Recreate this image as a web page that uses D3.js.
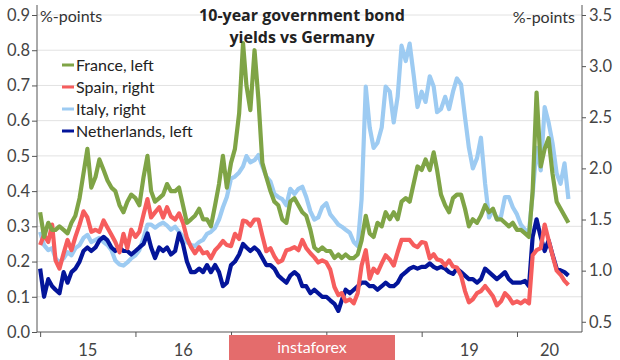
<!DOCTYPE html>
<html><head><meta charset="utf-8">
<script src="https://cdn.jsdelivr.net/npm/d3@7"></script>
<style>
body{margin:0;background:#fff;}
svg{display:block;font-family:Lato,"Open Sans",sans-serif;}
</style>
</head><body>
<svg id="c" width="620" height="360"></svg>
<script>
// semi-monthly observations, starting 1 Jan 2015
const france = [0.34,0.27,0.31,0.29,0.29,0.30,0.29,0.28,0.31,0.33,
 0.38,0.45,0.52,0.41,0.44,0.49,0.46,0.43,0.41,0.40,
 0.36,0.34,0.37,0.39,0.38,0.36,0.44,0.50,0.40,0.37,
 0.38,0.39,0.42,0.40,0.40,0.41,0.36,0.31,0.32,0.33,
 0.35,0.32,0.32,0.30,0.36,0.42,0.50,0.41,0.48,0.52,
 0.62,0.82,0.70,0.63,0.80,0.66,0.48,0.44,0.40,0.37,
 0.36,0.32,0.31,0.37,0.38,0.36,0.34,0.33,0.29,0.24,
 0.23,0.24,0.23,0.23,0.21,0.22,0.21,0.22,0.21,0.21,
 0.22,0.26,0.33,0.28,0.27,0.31,0.30,0.34,0.32,0.34,
 0.32,0.37,0.38,0.37,0.42,0.47,0.46,0.49,0.46,0.51,
 0.46,0.39,0.36,0.34,0.38,0.39,0.39,0.35,0.30,0.32,
 0.31,0.33,0.36,0.34,0.35,0.32,0.32,0.31,0.30,0.31,
 0.29,0.29,0.28,0.27,0.40,0.68,0.47,0.52,0.55,0.45,
 0.37,0.35,0.33,0.31];
const spain = [1.25,1.35,1.28,1.45,1.10,1.02,1.17,1.30,1.20,1.33,
 1.45,1.58,1.52,1.38,1.40,1.38,1.49,1.42,1.35,1.28,
 1.18,1.36,1.22,1.40,1.33,1.38,1.55,1.70,1.52,1.57,
 1.62,1.52,1.62,1.53,1.50,1.56,1.47,1.32,1.23,1.17,
 1.23,1.17,1.18,1.12,1.20,1.24,1.29,1.25,1.24,1.36,
 1.31,1.49,1.48,1.44,1.50,1.50,1.34,1.19,1.22,1.14,
 1.08,1.10,1.20,1.21,1.23,1.20,1.30,1.22,1.17,1.13,
 1.08,1.10,1.08,1.01,0.84,0.76,0.78,0.70,0.72,0.68,
 0.78,1.05,1.20,0.92,1.02,0.98,1.07,1.15,1.11,1.05,
 1.18,1.30,1.30,1.30,1.25,1.23,1.28,1.27,1.12,1.16,
 1.11,1.10,1.05,1.10,1.04,1.03,0.95,0.80,0.69,0.72,
 0.78,0.80,0.85,0.80,0.75,0.66,0.70,0.78,0.74,0.68,
 0.70,0.68,0.71,0.68,1.15,1.20,1.22,1.45,1.30,1.15,
 1.00,0.96,0.90,0.86];
const italy = [1.38,1.25,1.20,1.22,1.12,1.08,1.12,1.18,1.15,1.22,
 1.25,1.32,1.35,1.28,1.30,1.32,1.28,1.25,1.20,1.10,
 1.06,1.05,1.08,1.12,1.15,1.20,1.32,1.45,1.45,1.42,
 1.45,1.47,1.44,1.40,1.43,1.38,1.33,1.28,1.25,1.24,
 1.28,1.30,1.36,1.38,1.42,1.50,1.62,1.72,1.90,1.92,
 1.96,2.02,2.12,2.06,2.08,2.13,2.02,1.92,1.87,1.75,
 1.72,1.70,1.64,1.80,1.75,1.80,1.82,1.72,1.58,1.50,
 1.52,1.62,1.66,1.55,1.50,1.45,1.43,1.40,1.37,1.28,
 1.24,1.70,2.80,2.40,2.20,2.25,2.40,2.80,2.75,2.45,
 2.70,3.20,3.05,3.22,2.92,2.60,2.75,2.65,2.90,2.80,
 2.55,2.58,2.70,2.58,2.75,2.88,2.82,2.50,2.20,2.00,
 2.10,2.30,1.85,1.52,1.60,1.50,1.53,1.72,1.72,1.62,
 1.55,1.45,1.40,1.38,1.75,2.20,1.98,2.60,2.45,2.25,
 1.95,1.85,2.05,1.70];
const netherlands = [0.18,0.10,0.15,0.13,0.12,0.11,0.17,0.14,0.17,0.18,
 0.20,0.23,0.24,0.23,0.24,0.26,0.27,0.26,0.24,0.23,
 0.24,0.23,0.23,0.22,0.23,0.24,0.25,0.28,0.24,0.21,
 0.24,0.23,0.24,0.22,0.23,0.28,0.25,0.20,0.17,0.17,
 0.18,0.17,0.19,0.17,0.19,0.17,0.13,0.14,0.19,0.20,
 0.22,0.25,0.24,0.23,0.24,0.23,0.21,0.19,0.19,0.18,
 0.16,0.15,0.14,0.16,0.17,0.16,0.13,0.13,0.11,0.12,
 0.11,0.10,0.10,0.09,0.08,0.06,0.09,0.12,0.11,0.12,
 0.13,0.14,0.14,0.13,0.13,0.12,0.13,0.14,0.13,0.13,
 0.14,0.16,0.17,0.18,0.185,0.18,0.185,0.185,0.195,0.185,
 0.18,0.185,0.18,0.17,0.165,0.18,0.17,0.16,0.15,0.15,
 0.14,0.15,0.18,0.17,0.16,0.15,0.16,0.17,0.15,0.14,
 0.14,0.14,0.145,0.13,0.27,0.32,0.27,0.23,0.26,0.22,
 0.18,0.175,0.17,0.16];

const years = [2015,2016,2017,2018,2019,2020];
// labels for 2017 and 2018 are hidden by the watermark in the original
const yearLabels = ["15","16","","","19","20"];
const leftTicks = [0,0.1,0.2,0.3,0.4,0.5,0.6,0.7,0.8,0.9];
const rightTicks = [0.5,1.0,1.5,2.0,2.5,3.0,3.5];
const seriesNames = ["France, left","Spain, right","Italy, right","Netherlands, left"];
const seriesColors = ["#7fa446","#f65d5d","#9dcbf2","#04159a"];
const titleLines = ["10-year government bond","yields vs Germany"];

// dates of the observations (1st and 16th of each month)
const dates = [];
for (const y of years) for (let m = 0; m < 12; m++) for (const d of [1,16]) dates.push(new Date(y, m, d));
dates.length = france.length;

const svg = d3.select("#c");
const X0 = 37, X1 = 582, Y0 = 332, Y1 = 15;
const x = d3.scaleTime().domain([new Date(2014,11,20), new Date(2020,8,6)]).range([X0, X1]);
const yL = d3.scaleLinear().domain([0,0.9]).range([Y0,Y1]);
const yR = d3.scaleLinear().domain([0.4,3.5]).range([Y0,Y1]);

// gridlines
svg.append("g").selectAll("line").data(leftTicks.slice(1)).join("line")
  .attr("x1",X0).attr("x2",X1).attr("y1",d=>yL(d)).attr("y2",d=>yL(d))
  .attr("stroke","#e2e2e2").attr("stroke-width",1);

// series
const series = [
  {vals:italy, y:yR, color:seriesColors[2]},
  {vals:netherlands, y:yL, color:seriesColors[3]},
  {vals:spain, y:yR, color:seriesColors[1]},
  {vals:france, y:yL, color:seriesColors[0]}
];
for (const s of series) {
  const line = d3.line().x((d,i)=>x(dates[i])).y(d=>s.y(d));
  svg.append("path").datum(s.vals).attr("d",line)
    .attr("fill","none").attr("stroke",s.color).attr("stroke-width",4.2)
    .attr("stroke-linejoin","round");
}

// axes
const axisColor = "#555";
const gl = svg.append("g").attr("transform",`translate(${X0},0)`)
  .call(d3.axisLeft(yL).tickValues(leftTicks).tickFormat(d3.format(".1f")).tickSize(5).tickPadding(2));
const gr = svg.append("g").attr("transform",`translate(${X1},0)`)
  .call(d3.axisRight(yR).tickValues(rightTicks).tickFormat(d3.format(".1f")).tickSize(4).tickPadding(3));
const gb = svg.append("g").attr("transform",`translate(0,${Y0})`)
  .call(d3.axisBottom(x).tickValues(years.map(y=>new Date(y,0,1))).tickFormat("").tickSize(5));
for (const g of [gl,gr,gb]) {
  g.select(".domain").remove();
  g.selectAll("line").attr("stroke",axisColor);
  g.selectAll("text").attr("fill","#444").attr("font-size",16.5).attr("font-family","Lato, sans-serif");
}
svg.append("line").attr("x1",X0).attr("x2",X0).attr("y1",5).attr("y2",Y0).attr("stroke",axisColor);
svg.append("line").attr("x1",X1).attr("x2",X1).attr("y1",5).attr("y2",Y0).attr("stroke",axisColor);
svg.append("line").attr("x1",X0).attr("x2",X1).attr("y1",Y0).attr("y2",Y0).attr("stroke",axisColor);

// year labels centred on the visible part of each year
svg.append("g").selectAll("text").data(years.filter((y,i)=>yearLabels[i])).join("text")
  .attr("x",(y)=>{const a=Math.max(x(new Date(y,0,1)),X0), b=Math.min(x(new Date(y+1,0,1)),X1); return (a+b)/2;})
  .attr("y",356).attr("text-anchor","middle").attr("font-size",16.5).attr("fill","#444")
  .text(y=>yearLabels[years.indexOf(y)]);

// unit labels
svg.append("text").attr("x",40).attr("y",22).attr("font-size",16).attr("fill","#333").text("%-points");
svg.append("text").attr("x",575).attr("y",23).attr("text-anchor","end").attr("font-size",16).attr("fill","#333").text("%-points");

// title
svg.append("text").attr("x",302).attr("y",21).attr("text-anchor","middle").attr("font-family","'Open Sans', sans-serif")
  .attr("font-size",16).attr("font-weight","bold").attr("fill","#222").text(titleLines[0]);
svg.append("text").attr("x",302).attr("y",43).attr("text-anchor","middle").attr("font-family","'Open Sans', sans-serif")
  .attr("font-size",16).attr("font-weight","bold").attr("fill","#222").text(titleLines[1]);

// legend
const lg = svg.append("g");
seriesNames.forEach((n,i)=>{
  const cy = 65 + i*22;
  lg.append("line").attr("x1",62).attr("x2",74).attr("y1",cy).attr("y2",cy)
    .attr("stroke",seriesColors[i]).attr("stroke-width",3);
  lg.append("text").attr("x",76).attr("y",cy+5.5).attr("font-size",16).attr("fill","#222").text(n);
});

// watermark
svg.append("rect").attr("x",229).attr("y",335).attr("width",166).attr("height",25).attr("fill","#e46c6c");
svg.append("text").attr("x",312).attr("y",353).attr("text-anchor","middle").attr("font-size",16)
  .attr("fill","#fff").text("instaforex");
</script>
</body></html>
